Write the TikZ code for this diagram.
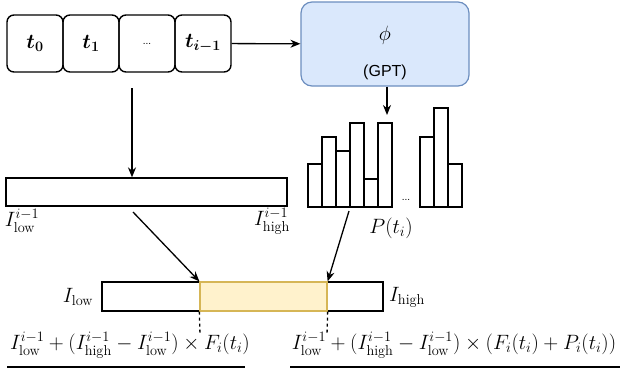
\documentclass[tikz,border=0pt]{standalone}
\usepackage{amsmath}
\usepackage{fontspec}
\newfontfamily\guifont{Liberation Sans}
\usetikzlibrary{arrows.meta}
\definecolor{gptfill}{HTML}{DAE8FC}
\definecolor{gptline}{HTML}{6C8EBF}
\definecolor{pickfill}{HTML}{FFF2CC}
\definecolor{pickline}{HTML}{D6B656}

\begin{document}
\begin{tikzpicture}[
    x=1pt, y=-1pt,
    font=\fontsize{20.5}{24}\selectfont,
    token/.style={draw, line width=1.4pt, rounded corners=7pt, minimum width=56pt, minimum height=57pt, inner sep=0pt},
    model/.style={draw=gptline, fill=gptfill, line width=1.2pt, rounded corners=11pt, minimum width=168pt, minimum height=84pt},
    interval/.style={draw, line width=1.3pt, minimum width=281pt, minimum height=28pt, inner sep=0pt},
    picked/.style={draw=pickline, fill=pickfill, line width=1.3pt, minimum width=127pt, minimum height=29pt, inner sep=0pt},
    flow/.style={-{Stealth[length=10pt, width=8pt]}, line width=1.3pt},
    bar/.style={draw, line width=1.3pt, fill=white}
    ]

    \useasboundingbox (0,0) rectangle (624,368);

    % input sequence
    \node[token] (t0) at (35,43.5) {\(\boldsymbol{t_0}\)};
    \node[token] (t1) at (91,43.5) {\(\boldsymbol{t_1}\)};
    \node[token] (tdots) at (147,43.5) {\guifont\fontsize{10}{12}\selectfont ...};
    \node[token] (tprev) at (203,43.5) {\(\boldsymbol{t_{i-1}}\)};

    % model
    \node[model] (gpt) at (385,44) {};
    \node (phi) at (385,35) {\(\phi\)};
    \node[font=\guifont\fontsize{16}{18}\selectfont] (gptname) at (385,72) {(GPT)};

    \draw[flow] (tprev) -- (gpt);

    % interval before step i
    \node[interval] (prev) at (146.5,192) {};
    \node (prevlow) at (22,221) {\(I_{\text{low}}^{i-1}\)};
    \node (prevhigh) at (272,221) {\(I_{\text{high}}^{i-1}\)};

    \coordinate (seqdown) at (132,88);
    \draw[flow] (seqdown) -- (seqdown |- prev.north);

    % distribution
    \foreach \xl/\top in {308/164, 322/137, 336/151, 350/123, 364/179, 378/123, 420/137, 434/108, 448/164}
        \draw[bar] (\xl,207) rectangle ++(14,\top-207);
    \node[font=\guifont\fontsize{10}{12}\selectfont] (histdots) at (406,200) {...};
    \node (dist) at (391,228) {\(P(t_i)\)};

    \coordinate (histtop) at (387,115);
    \draw[flow] (gpt.south -| histtop) -- (histtop);

    % interval after step i
    \node[interval, minimum height=29pt] (cur) at (242.5,296.5) {};
    \node[picked] (range) at (263.5,296.5) {};
    \node (curlow) at (78,297) {\(I_{\text{low}}\)};
    \node (curhigh) at (407,297) {\(I_{\text{high}}\)};

    \coordinate (prevout) at (133,212);
    \coordinate (distout) at (349,211);
    \draw[flow] (prevout) -- (range.north west);
    \draw[flow] (distout) -- (range.north east);

    \coordinate (lowend) at (200,335);
    \coordinate (highend) at (327,335);
    \draw[dash pattern=on 3pt off 3pt, line width=1.3pt] (range.south west) -- (lowend);
    \draw[dash pattern=on 3pt off 3pt, line width=1.3pt] (range.south east) -- (highend);

    % bounds
    \node (lowexpr) at (130,345) {\(I_{\text{low}}^{i-1}+(I_{\text{high}}^{i-1}-I_{\text{low}}^{i-1})\times F_i(t_i)\)};
    \node (highexpr) at (454,345) {\(I_{\text{low}}^{i-1}+(I_{\text{high}}^{i-1}-I_{\text{low}}^{i-1})\times (F_i(t_i)+P_i(t_i))\)};
    \draw[line width=1.3pt] (7,367) -- (245,367);
    \draw[line width=1.3pt] (290,367) -- (620,367);

\end{tikzpicture}
\end{document}
